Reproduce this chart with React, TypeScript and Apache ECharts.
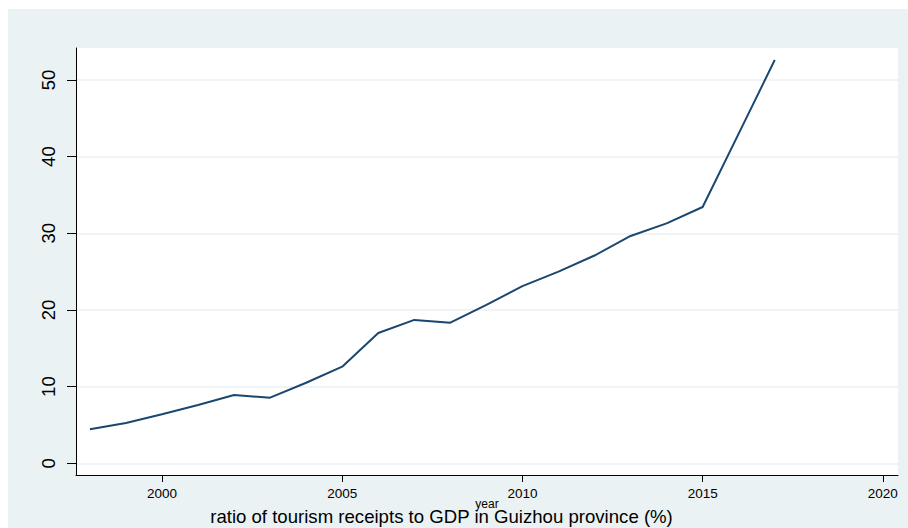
import React, { useEffect, useRef } from "react";
import * as echarts from "echarts";

const years = [1998, 1999, 2000, 2001, 2002, 2003, 2004, 2005, 2006, 2007, 2008, 2009, 2010, 2011, 2012, 2013, 2014, 2015, 2016, 2017];
const ratio = [4.43, 5.26, 6.39, 7.6, 8.9, 8.56, 10.5, 12.6, 17.0, 18.7, 18.34, 20.65, 23.1, 25.0, 27.1, 29.65, 31.3, 33.43, 43.0, 52.6];
const xTicks = [2000, 2005, 2010, 2015, 2020];
const yTicks = [0, 10, 20, 30, 40, 50];
const xTitle = "year";
const legendText = "ratio of tourism receipts to GDP in Guizhou province (%)";

export default function App() {
  const ref = useRef<HTMLDivElement>(null);
  useEffect(() => {
    if (!ref.current) return;
    const chart = echarts.init(ref.current, null, { renderer: "svg" });
    const font = "'Liberation Sans', Arial, sans-serif";
    chart.setOption({
      animation: false,
      backgroundColor: "#eaf2f3",
      grid: { left: 68, right: 10, top: 39, bottom: 53, show: true, backgroundColor: "#ffffff", borderWidth: 0 },
      xAxis: {
        type: "value",
        min: 1997.614,
        max: 2020.42,
        axisLine: { show: true, onZero: false, lineStyle: { color: "#000", width: 1 } },
        axisTick: { show: true, customValues: xTicks, length: 7, lineStyle: { color: "#000" } },
        axisLabel: { customValues: xTicks, color: "#000", fontSize: 13.5, fontFamily: font, margin: 11, formatter: (v: number) => String(v) },
        splitLine: { show: false },
      },
      yAxis: {
        type: "value",
        min: -1.53,
        max: 54.17,
        axisLine: { show: true, onZero: false, lineStyle: { color: "#000", width: 1 } },
        axisTick: { show: true, customValues: yTicks, length: 9, lineStyle: { color: "#000" } },
        axisLabel: { customValues: yTicks, color: "#000", fontSize: 18.5, fontFamily: font, rotate: 90, margin: 18, formatter: (v: number) => String(v) },
        splitLine: { show: true, lineStyle: { color: "#eaf2f3", width: 1.5 } },
      },
      graphic: [
        { type: "text", x: 487 - 8, y: 504 - 9, style: { text: xTitle, fontSize: 12, fontFamily: font, fill: "#000", align: "center", verticalAlign: "middle" } },
        { type: "text", x: 441.5 - 8, y: 516 - 9, style: { text: legendText, fontSize: 18.6, fontFamily: font, fill: "#000", align: "center", verticalAlign: "middle" } },
      ],
      series: [
        {
          type: "line",
          data: years.map((y, i) => [y, ratio[i]]),
          showSymbol: false,
          lineStyle: { color: "#1a476f", width: 2 },
          itemStyle: { color: "#1a476f" },
        },
      ],
    });
    return () => chart.dispose();
  }, []);
  return <div ref={ref} style={{ position: "absolute", left: 8, top: 9, width: 900, height: 519 }} />;
}
